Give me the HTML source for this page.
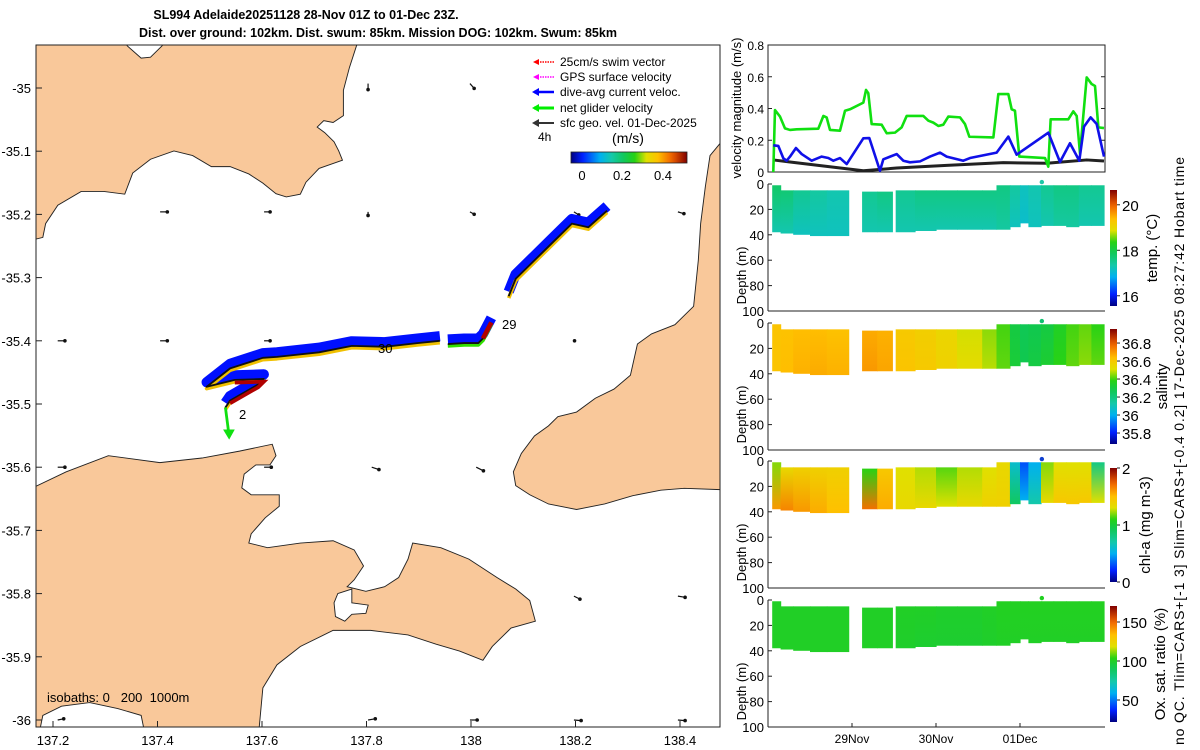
<!DOCTYPE html>
<html><head><meta charset="utf-8"><style>
html,body{margin:0;padding:0;background:#fff;}
svg{display:block;font-family:"Liberation Sans",sans-serif;}
</style></head><body>
<svg id="root" width="1200" height="750" viewBox="0 0 1200 750" xmlns="http://www.w3.org/2000/svg">
<defs>
<clipPath id="mapclip"><rect x="36" y="45" width="684" height="682"/></clipPath>
</defs>
<text x="306" y="19" text-anchor="middle" font-size="12.5" font-weight="bold">SL994 Adelaide20251128 28-Nov 01Z to 01-Dec 23Z.</text>
<text x="378" y="37" text-anchor="middle" font-size="12.5" font-weight="bold">Dist. over ground: 102km. Dist. swum: 85km. Mission DOG: 102km. Swum: 85km</text>

<g id="map">
<g clip-path="url(#mapclip)">
<g transform="translate(-4,30.55) scale(0.4682,0.45964)">
<path fill="#f9c89a" stroke="#222" stroke-width="2" d="M60,20 L280,20 L280,33 L310,60 L330,58 L355,33 L355,20 L780,20 L770,33 L755,80 L742,130 L742,185 L720,200 L700,196 L686,210 L702,222 L722,242 L732,262 L740,282 L718,290 L690,300 L662,330 L650,356 L620,362 L598,355 L570,332 L540,312 L500,296 L460,296 L420,272 L380,262 L330,280 L292,310 L275,356 L230,350 L182,350 L132,380 L106,420 L100,450 L60,460 Z"/>
<path fill="#f9c89a" stroke="#222" stroke-width="2" d="M1580,235 L1547,245 L1525,272 L1515,340 L1505,420 L1500,500 L1490,600 L1450,640 L1400,660 L1370,682 L1355,750 L1320,780 L1280,800 L1240,830 L1200,840 L1180,860 L1150,882 L1122,920 L1105,960 L1110,990 L1140,1010 L1180,1030 L1240,1042 L1300,1030 L1360,1012 L1420,1000 L1470,996 L1580,1000 Z"/>
<path fill="#f9c89a" stroke="#222" stroke-width="2" d="M60,1000 L78,995 L150,960 L240,925 L350,940 L440,930 L520,915 L590,900 L598,925 L585,945 L555,945 L530,965 L525,995 L545,1010 L605,1010 L605,1035 L575,1060 L545,1095 L540,1115 L580,1125 L650,1115 L720,1110 L765,1130 L785,1165 L765,1195 L750,1210 L790,1220 L830,1210 L860,1190 L880,1150 L890,1115 L950,1125 L1010,1150 L1070,1190 L1110,1215 L1140,1240 L1152,1285 L1100,1300 L1060,1340 L1040,1370 L990,1350 L940,1335 L880,1315 L800,1305 L720,1305 L650,1340 L600,1380 L570,1430 L560,1540 L320,1540 L310,1490 L260,1475 L200,1462 L140,1470 L100,1490 L90,1540 L60,1540 Z"/>
<path fill="#fff" stroke="#222" stroke-width="2" d="M730,1225 L760,1215 L760,1245 L795,1250 L790,1268 L760,1270 L745,1285 L725,1275 L722,1245 Z"/>
</g>
<g id="geoArrows"></g>
<g id="track"></g>
</g>
<rect x="36" y="45" width="684" height="682" fill="none" stroke="#222" stroke-width="1"/>
<g id="mapTicks"></g>
<text x="47" y="702" font-size="13">isobaths: 0&#160;&#160;&#160;200&#160;&#160;1000m</text>
<text x="502" y="329" font-size="13">29</text>
<text x="239" y="419" font-size="13">2</text>
<text x="378" y="353" font-size="13">30</text>
<g font-size="12">
<line x1="554" y1="62" x2="534" y2="62" stroke="#f00" stroke-width="1.5" stroke-dasharray="1.5,1"/><path d="M533,62 l6,-3 l0,6z" fill="#f00"/>
<text x="560" y="66">25cm/s swim vector</text>
<line x1="554" y1="77" x2="534" y2="77" stroke="#f0f" stroke-width="1.5" stroke-dasharray="1.5,1"/><path d="M533,77 l6,-3 l0,6z" fill="#f0f"/>
<text x="560" y="81">GPS surface velocity</text>
<line x1="554" y1="92" x2="534" y2="92" stroke="#00f" stroke-width="2.5"/><path d="M532,92 l7,-4 l0,8z" fill="#00f"/>
<text x="560" y="96">dive-avg current veloc.</text>
<line x1="554" y1="108" x2="534" y2="108" stroke="#0e0" stroke-width="3"/><path d="M532,108 l7,-4 l0,8z" fill="#0e0"/>
<text x="560" y="112">net glider velocity</text>
<line x1="554" y1="123" x2="534" y2="123" stroke="#333" stroke-width="2"/><path d="M532,123 l7,-4 l0,8z" fill="#333"/>
<text x="560" y="127">sfc geo. vel. 01-Dec-2025</text>
<text x="538" y="141">4h</text>
<text x="628" y="143" text-anchor="middle" font-size="14">(m/s)</text>
<rect id="speedBar" x="571" y="152" width="116" height="11" stroke="#222" stroke-width="0.8"/>
<text x="582" y="180" text-anchor="middle" font-size="13">0</text>
<text x="622" y="180" text-anchor="middle" font-size="13">0.2</text>
<text x="663" y="180" text-anchor="middle" font-size="13">0.4</text>
</g>
</g>

<g id="right"></g>
<text transform="translate(1184,451) rotate(-90)" text-anchor="middle" font-size="14" textLength="588">no QC. Tlim=CARS+[-1 3] Slim=CARS+[-0.4 0.2] 17-Dec-2025 08:27:42 Hobart time</text>
</svg>
<script>
const greenT=[0.063,0.083,0.143,0.202,0.262,0.341,0.599,0.659,0.698,0.738,0.857,0.917,0.976,1.135,1.167,1.194,1.234,1.353,1.413,1.512,1.591,1.651,1.849,1.909,1.968,2.028,2.087,2.147,2.286,2.345,2.397,2.683,2.742,2.861,2.901,2.940,2.992,3.298,3.337,3.365,3.575,3.635,3.675,3.714,3.794,3.853,3.893,3.933,4.0];
const greenV=[0,0.39,0.349,0.275,0.265,0.269,0.273,0.353,0.344,0.265,0.26,0.386,0.395,0.437,0.517,0.496,0.302,0.298,0.244,0.248,0.281,0.353,0.353,0.323,0.311,0.29,0.298,0.349,0.344,0.302,0.222,0.218,0.491,0.491,0.395,0.386,0.097,0.088,0.034,0.332,0.332,0.382,0.353,0.118,0.596,0.554,0.542,0.281,0.277];
const blueT=[0.063,0.123,0.183,0.222,0.262,0.333,0.401,0.52,0.639,0.718,0.778,0.857,0.937,1.135,1.206,1.333,1.373,1.532,1.611,1.69,1.81,1.929,2.048,2.127,2.325,2.405,2.722,2.861,2.96,3.337,3.476,3.595,3.706,3.762,3.841,3.913,4.0];
const blueV=[0.168,0.164,0.086,0.071,0.097,0.151,0.113,0.071,0.097,0.088,0.071,0.088,0.05,0.212,0.214,0.008,0.08,0.113,0.071,0.061,0.067,0.097,0.122,0.097,0.071,0.088,0.122,0.223,0.109,0.248,0.063,0.181,0.071,0.286,0.344,0.302,0.097];
const blackT=[0.063,0.262,1.135,1.532,2.127,2.802,3.321,3.794,4.0];
const blackV=[0.076,0.063,0.008,0.025,0.042,0.059,0.055,0.076,0.069];
const velTicks=[0,0.2,0.4,0.6,0.8];
const dateTicks=[1,2,3];
const dateLabels=["29Nov","30Nov","01Dec"];
const colT0=[0.05,0.15,0.30,0.50,0.70,1.12,1.30,1.52,1.75,2.0,2.25,2.55,2.72,2.88,3.0,3.1,3.25,3.4,3.55,3.7,3.85];
const colT1=[0.15,0.30,0.50,0.70,0.96,1.30,1.48,1.75,2.0,2.25,2.55,2.72,2.88,3.0,3.1,3.25,3.4,3.55,3.7,3.85,4.0];
const colTop=[1,5,5,5,5,6,6,5,5,5,5,5,1,1,1,1,1,1,1,1,1];
const colBot=[38,39,40,41,41,38,38,38,37,36,36,36,36,34,31,34,33,33,34,33,33];
const tempTop=[17.8,17.7,17.5,17.4,17.3,17.5,17.6,17.5,17.6,17.6,17.6,17.6,17.6,17.4,17.2,17.3,17.5,17.6,17.6,17.5,17.5];
const tempBot=[17.3,17.3,17.2,17.2,17.2,17.3,17.3,17.3,17.3,17.3,17.3,17.3,17.4,17.2,17.1,17.2,17.3,17.4,17.4,17.3,17.3];
const salTop=[36.62,36.63,36.64,36.64,36.63,36.67,36.66,36.6,36.58,36.55,36.5,36.45,36.4,36.3,36.27,36.28,36.3,36.35,36.4,36.42,36.38];
const salBot=[36.62,36.64,36.66,36.67,36.66,36.7,36.68,36.62,36.6,36.57,36.53,36.48,36.42,36.32,36.28,36.3,36.33,36.38,36.42,36.45,36.42];
const chlTop=[1.2,1.35,1.4,1.4,1.4,1.1,1.45,1.3,1.25,1.15,1.25,1.3,1.35,0.6,0.3,0.5,1.2,1.3,1.3,1.3,0.8];
const chlBot=[1.6,1.65,1.6,1.55,1.5,1.7,1.55,1.35,1.35,1.3,1.35,1.4,1.4,0.9,0.5,0.7,1.35,1.45,1.45,1.45,1.3];
const oxTop=[100,100,100,100,100,100,100,100,100,99,99,100,101,101,101,101,101,101,101,101,101];
const oxBot=[100,100,100,100,100,100,100,99,98,98,98,99,100,100,100,100,100,100,100,100,100];
const depthTicks=[0,20,40,60,80,100];
const tempTicks=[16,18,20];
const salTicks=[35.8,36,36.2,36.4,36.6,36.8];
const chlTicks=[0,1,2];
const oxTicks=[50,100,150];
const surfDot=[3.26,-1.5];
const latTicks=[-35,-35.1,-35.2,-35.3,-35.4,-35.5,-35.6,-35.7,-35.8,-35.9,-36];
const lonTicks=[137.2,137.4,137.6,137.8,138,138.2,138.4];
const geoLon=[137.803,137.998,137.405,137.604,137.803,137.998,138.197,138.396,137.209,137.405,137.604,138.197,137.209,137.604,137.81,138.01,138.197,138.396,137.209,137.803,137.998,138.197,138.396];
const geoLat=[-34.993,-34.993,-35.196,-35.196,-35.196,-35.196,-35.196,-35.196,-35.40,-35.40,-35.40,-35.40,-35.60,-35.60,-35.60,-35.60,-35.804,-35.804,-36.0,-36.0,-36.0,-36.0,-36.0];
const geoU=[0,0.07,0.12,0.1,0,0.07,0.08,0.1,0.12,0.12,0.1,0.01,0.12,0.12,0.12,0.12,0.1,0.12,0.1,0.12,0.12,0.12,0.12];
const geoV=[-0.1,-0.08,0,0,-0.06,-0.04,-0.05,-0.03,0,0,0,0,0,0,-0.04,-0.06,-0.05,-0.02,0.02,0.02,0,-0.01,-0.01];
const trackX=[1305,1265,1230,1180,1150,1110,1095];
const trackY=[392,428,420,470,500,540,578];
const track2X=[1058,1040,1030,1000,965];
const track2Y=[635,670,680,680,682];
const track3X=[948,900,830,760,690,600,570,500,450,510,572,560,500,490];
const track3Y=[675,680,688,686,700,710,712,735,775,760,758,770,805,820];

const NS="http://www.w3.org/2000/svg";
function mk(tag,attrs,parent){const e=document.createElementNS(NS,tag);for(const k in attrs)e.setAttribute(k,attrs[k]);if(parent)parent.appendChild(e);return e;}
const stops=[[0,[0,0,128]],[0.1,[0,32,255]],[0.25,[0,176,240]],[0.35,[20,200,170]],[0.47,[16,200,80]],[0.55,[40,210,20]],[0.65,[224,224,0]],[0.75,[255,192,0]],[0.87,[240,96,0]],[1,[128,0,0]]];
function cmap(n){n=Math.max(0,Math.min(1,n));for(let i=1;i<stops.length;i++){if(n<=stops[i][0]){const a=stops[i-1],b=stops[i];const f=(n-a[0])/(b[0]-a[0]);const c=a[1].map((v,j)=>Math.round(v+(b[1][j]-v)*f));return `rgb(${c[0]},${c[1]},${c[2]})`;}}return 'rgb(128,0,0)';}
const defs=document.querySelector('defs');
function barGrad(id,vertical){const g=mk('linearGradient',{id:id,x1:0,y1:vertical?1:0,x2:vertical?0:1,y2:0},defs);for(let i=0;i<=20;i++)mk('stop',{offset:i/20,'stop-color':cmap(i/20)},g);}
barGrad('gH',false);barGrad('gV',true);
document.getElementById('speedBar').setAttribute('fill','url(#gH)');

const mapX=lon=>53+(lon-137.2)*522.5;
const mapY=lat=>88+(-35-lat)*632;
const mt=document.getElementById('mapTicks');
latTicks.forEach(l=>{const y=mapY(l);
 mk('line',{x1:36,y1:y,x2:42,y2:y,stroke:'#222'},mt);
 const t=mk('text',{x:31,y:y+5,'text-anchor':'end','font-size':13},mt);t.textContent=String(l);
 
 
});
lonTicks.forEach(l=>{const x=mapX(l);
 mk('line',{x1:x,y1:727,x2:x,y2:721,stroke:'#222'},mt);
 const t=mk('text',{x:x,y:745,'text-anchor':'middle','font-size':13},mt);t.textContent=String(l);
 
 
});
const ga=document.getElementById('geoArrows');
geoLon.forEach((lo,i)=>{const x=mapX(lo),y=mapY(geoLat[i]);const dx=geoU[i]*60,dy=-geoV[i]*60;
 const a=mk('g',{},ga);
 
 
 mk('line',{x1:x,y1:y,x2:x+dx,y2:y+dy,stroke:'#111','stroke-width':1.2},a);
 mk('circle',{cx:x+dx,cy:y+dy,r:1.8,fill:'#111'},a);
});
const tr=document.getElementById('track');
const tg=mk('g',{transform:'translate(-4,30.55) scale(0.4682,0.45964)'},tr);
function pts(xs,ys,dy){return xs.map((x,i)=>x+','+(ys[i]+dy)).join(' ');}
[[trackX,trackY],[track2X,track2Y],[track3X,track3Y]].forEach(([xs,ys],k)=>{
 const b=mk('polyline',{points:pts(xs,ys,-10),fill:'none',stroke:'#0010ff','stroke-width':22,'stroke-linejoin':'round'},tg);
 
 
 const y=mk('polyline',{points:pts(xs,ys,4),fill:'none',stroke:k==1?'#30e000':'#f0c000','stroke-width':8,'stroke-linejoin':'round'},tg);
 
 
 const l=mk('polyline',{points:pts(xs,ys,0),fill:'none',stroke:'#111','stroke-width':4,'stroke-linejoin':'round'},tg);
 
 
});
const red1=mk('polyline',{points:pts(track3X.slice(9,13),track3Y.slice(9,13),6),fill:'none',stroke:'#b00000','stroke-width':8},tg);


const red2=mk('polyline',{points:'1058,635 1040,670',fill:'none',stroke:'#b00000','stroke-width':10},tg);


const arr=mk('g',{},tg);


mk('line',{x1:490,y1:820,x2:497,y2:875,stroke:'#10e010','stroke-width':6},arr);
mk('path',{d:'M485,868 L510,868 L498,890 Z',fill:'#10e010'},arr);

const R=document.getElementById('right');
const PX0=768,PX1=1105;
const tx=t=>PX0+t*84;
const vTop=45,vBot=172;
const vy=v=>vBot-v/0.8*(vBot-vTop);
const vf=mk('rect',{x:PX0,y:vTop,width:PX1-PX0,height:vBot-vTop,fill:'none',stroke:'#222'},R);


velTicks.forEach(v=>{const y=vy(v);
 mk('line',{x1:PX0,y1:y,x2:PX0+4,y2:y,stroke:'#222'},R);
 mk('line',{x1:PX1,y1:y,x2:PX1-4,y2:y,stroke:'#222'},R);
 const t=mk('text',{x:PX0-4,y:y+5,'text-anchor':'end','font-size':12},R);t.textContent=v===0?'0':v.toFixed(1);
 
 
});
function line(T,V,col,w,name){const p=mk('polyline',{points:T.map((t,i)=>tx(t)+','+vy(V[i])).join(' '),fill:'none',stroke:col,'stroke-width':w,'stroke-linejoin':'round'},R);
 
 }
line(blackT,blackV,'#222',3,'sfc-geo-speed-line');
line(greenT,greenV,'#10e010',2.6,'net-glider-speed-line');
line(blueT,blueV,'#1010e8',2.6,'dive-avg-current-speed-line');
const vl=mk('text',{transform:`translate(741,108) rotate(-90)`,'text-anchor':'middle','font-size':13},R);vl.textContent='velocity magnitude (m/s)';



const panels=[
 {top:184,bot:311,top_:tempTop,bot_:tempBot,lo:15.55,hi:20.65,ticks:tempTicks,cb0:190,cb1:306,label:'temp. (°C)',name:'temperature',dot:'#20c8a8',lx:1157},
 {top:323,bot:450,top_:salTop,bot_:salBot,lo:35.678,hi:36.956,ticks:salTicks,cb0:329,cb1:444,label:'salinity',name:'salinity',dot:'#10c070',lx:1167},
 {top:461,bot:588,top_:chlTop,bot_:chlBot,lo:0,hi:2,ticks:chlTicks,cb0:468,cb1:582,label:'chl-a (mg m-3)',name:'chlorophyll',dot:'#1040d0',lx:1150},
 {top:600,bot:727,top_:oxTop,bot_:oxBot,lo:21.8,hi:170.5,ticks:oxTicks,cb0:606,cb1:722,label:'Ox. sat. ratio (%)',name:'oxygen',dot:'#20d020',lx:1165}
];
panels.forEach((P,pi)=>{
 const dy=d=>P.top+d/100*(P.bot-P.top);
 const g=mk('g',{},R);
 
 
 colT0.forEach((t0,i)=>{
  const gid='g'+pi+'_'+i;
  const lg=mk('linearGradient',{id:gid,x1:0,y1:0,x2:0,y2:1},defs);
  mk('stop',{offset:0,'stop-color':cmap((P.top_[i]-P.lo)/(P.hi-P.lo))},lg);
  mk('stop',{offset:1,'stop-color':cmap((P.bot_[i]-P.lo)/(P.hi-P.lo))},lg);
  const r=mk('rect',{x:tx(t0),y:dy(colTop[i]),width:tx(colT1[i])-tx(t0)+0.6,height:dy(colBot[i])-dy(colTop[i]),fill:`url(#${gid})`},g);
  
  
 });
 const dot=mk('circle',{cx:tx(surfDot[0]),cy:dy(surfDot[1]),r:2.2,fill:P.dot},g);
 
 
 mk('line',{x1:PX0,y1:P.top,x2:PX0,y2:P.bot,stroke:'#222'},g);
 mk('line',{x1:PX0,y1:P.bot,x2:PX1,y2:P.bot,stroke:'#222'},g);
 depthTicks.forEach(d=>{const y=dy(d);
  mk('line',{x1:PX0,y1:y,x2:PX0+4,y2:y,stroke:'#222'},g);
  const t=mk('text',{x:PX0-4,y:y+5,'text-anchor':'end','font-size':13},g);t.textContent=String(d);
  
  
 });
 const dl=mk('text',{transform:`translate(746,${(P.top+P.bot)/2+28}) rotate(-90)`,'text-anchor':'middle','font-size':13},g);dl.textContent='Depth (m)';
 
 
 const cb=mk('rect',{x:1110,y:P.cb0,width:7,height:P.cb1-P.cb0,fill:'url(#gV)'},g);
 
 
 const cy=v=>P.cb1-(v-P.lo)/(P.hi-P.lo)*(P.cb1-P.cb0);
 P.ticks.forEach(v=>{const y=cy(v);
  mk('line',{x1:1117,y1:y,x2:1120,y2:y,stroke:'#222'},g);
  const t=mk('text',{x:1122,y:y+6,'font-size':15},g);t.textContent=String(v);
  
  
 });
 const cl=mk('text',{transform:`translate(${P.lx},${(P.cb0+P.cb1)/2}) rotate(-90)`,'text-anchor':'middle','font-size':15},g);cl.textContent=P.label;
 
 
 if(pi===3){dateTicks.forEach((d,i)=>{const x=tx(d);
  mk('line',{x1:x,y1:P.bot,x2:x,y2:P.bot-4,stroke:'#222'},g);
  const t=mk('text',{x:x,y:P.bot+16,'text-anchor':'middle','font-size':12},g);t.textContent=dateLabels[i];
  
  
 });}
});
</script>
</body></html>
